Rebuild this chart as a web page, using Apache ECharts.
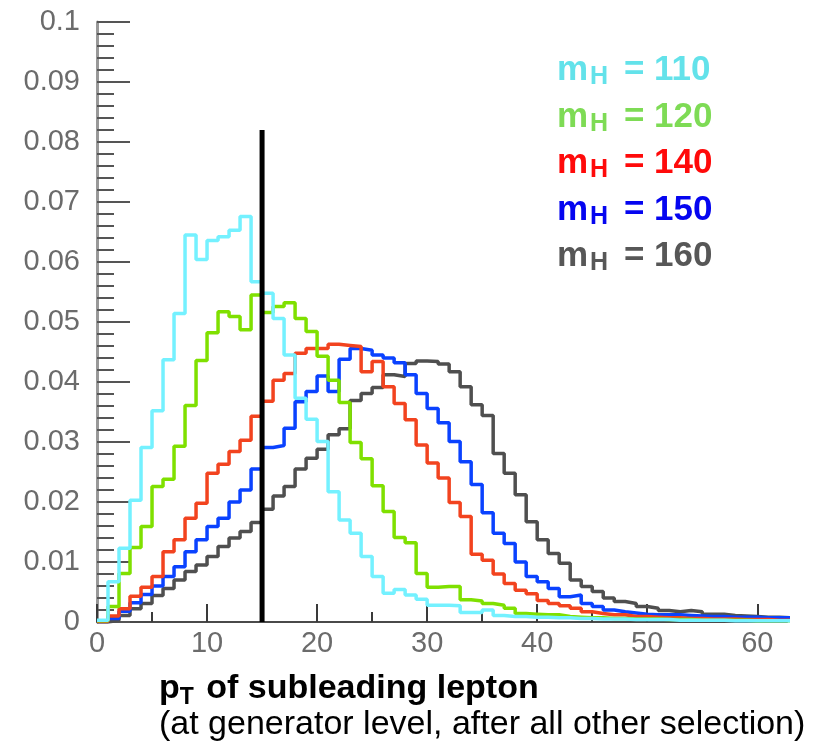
<!DOCTYPE html>
<html>
<head>
<meta charset="utf-8">
<script src="https://cdn.jsdelivr.net/npm/echarts@6/dist/echarts.min.js"></script>
<style>
  html, body { margin: 0; padding: 0; background: #ffffff; }
  #chart { width: 827px; height: 744px; }
</style>
</head>
<body>
<div id="chart"></div>
<script>
// ---- Data ----
// Histogram bins: 1 GeV wide, starting at 0 GeV
const binStart = 0;
const binWidth = 1;

const mH110 = [
  0.0003, 0.0067, 0.0123, 0.0203, 0.0291, 0.0352, 0.0437, 0.0514, 0.0645, 0.0604,
  0.0636, 0.0642, 0.0653, 0.0676, 0.0567, 0.0548, 0.0506, 0.0445, 0.0373, 0.0338,
  0.0301, 0.0217, 0.0170, 0.0148, 0.0109, 0.0076, 0.0048, 0.0054, 0.0045, 0.0038,
  0.0028, 0.0028, 0.0027, 0.0016, 0.0016, 0.0020, 0.0011, 0.0009, 0.0009, 0.0008,
  0.0008, 0.0007, 0.0007, 0.0006, 0.0006, 0.0005, 0.0005, 0.0005, 0.0004, 0.0004,
  0.0004, 0.0004, 0.0003, 0.0003, 0.0003, 0.0003, 0.0003, 0.0002, 0.0002, 0.0002,
  0.0002, 0.0002, 0.0002
];
const mH120 = [
  0.0002, 0.0026, 0.0081, 0.0124, 0.0159, 0.0226, 0.0238, 0.0293, 0.0361, 0.0436,
  0.0482, 0.0517, 0.0509, 0.0487, 0.0545, 0.0516, 0.0526, 0.0532, 0.0506, 0.0484,
  0.0443, 0.0403, 0.0366, 0.0299, 0.0272, 0.0227, 0.0184, 0.0141, 0.0132, 0.0081,
  0.0058, 0.0059, 0.0059, 0.0037, 0.0035, 0.0031, 0.0028, 0.0023, 0.0014, 0.0013,
  0.0012, 0.0012, 0.0009, 0.0008, 0.0007, 0.0007, 0.0006, 0.0006, 0.0005, 0.0005,
  0.0005, 0.0004, 0.0004, 0.0004, 0.0003, 0.0003, 0.0003, 0.0003, 0.0003, 0.0002,
  0.0002, 0.0002, 0.0002
];
const mH140 = [
  0.0001, 0.0010, 0.0022, 0.0043, 0.0058, 0.0076, 0.0117, 0.0137, 0.0173, 0.0198,
  0.0248, 0.0263, 0.0284, 0.0303, 0.0343, 0.0368, 0.0403, 0.0414, 0.0448, 0.0456,
  0.0456, 0.0463, 0.0461, 0.0459, 0.0417, 0.0434, 0.0392, 0.0364, 0.0337, 0.0295,
  0.0265, 0.0240, 0.0199, 0.0176, 0.0113, 0.0103, 0.0080, 0.0064, 0.0053, 0.0047,
  0.0036, 0.0031, 0.0027, 0.0023, 0.0017, 0.0014, 0.0012, 0.0012, 0.0009, 0.0009,
  0.0008, 0.0007, 0.0007, 0.0006, 0.0006, 0.0005, 0.0005, 0.0005, 0.0004, 0.0004,
  0.0004, 0.0003, 0.0003
];
const mH150 = [
  0.0001, 0.0006, 0.0018, 0.0032, 0.0046, 0.0060, 0.0076, 0.0092, 0.0117, 0.0137,
  0.0159, 0.0173, 0.0200, 0.0220, 0.0255, 0.0291, 0.0294, 0.0323, 0.0367, 0.0384,
  0.0410, 0.0384, 0.0438, 0.0456, 0.0453, 0.0445, 0.0440, 0.0432, 0.0412, 0.0381,
  0.0356, 0.0332, 0.0301, 0.0267, 0.0229, 0.0182, 0.0148, 0.0131, 0.0100, 0.0076,
  0.0067, 0.0056, 0.0042, 0.0045, 0.0031, 0.0026, 0.0020, 0.0017, 0.0015, 0.0013,
  0.0012, 0.0012, 0.0012, 0.0011, 0.0010, 0.0009, 0.0009, 0.0008, 0.0008, 0.0008,
  0.0007, 0.0007, 0.0007
];
const mH160 = [
  0.0000, 0.0003, 0.0011, 0.0022, 0.0031, 0.0044, 0.0056, 0.0070, 0.0084, 0.0095,
  0.0109, 0.0126, 0.0140, 0.0151, 0.0166, 0.0188, 0.0210, 0.0226, 0.0255, 0.0273,
  0.0288, 0.0312, 0.0322, 0.0369, 0.0381, 0.0391, 0.0412, 0.0409, 0.0431, 0.0435,
  0.0434, 0.0430, 0.0417, 0.0392, 0.0362, 0.0344, 0.0281, 0.0248, 0.0212, 0.0167,
  0.0137, 0.0114, 0.0098, 0.0070, 0.0059, 0.0051, 0.0040, 0.0034, 0.0031, 0.0026,
  0.0023, 0.0019, 0.0017, 0.0019, 0.0017, 0.0013, 0.0013, 0.0011, 0.0010, 0.0009,
  0.0008, 0.0008, 0.0007
];

const seriesNames = ['m_H = 110', 'm_H = 120', 'm_H = 140', 'm_H = 150', 'm_H = 160'];
const massLabels = ['110', '120', '140', '150', '160'];

// cut line on pT of subleading lepton
const cutValue = 15;
const cutTop = 0.082;

const xTickLabels = [0, 10, 20, 30, 40, 50, 60];
const xMinorTicks = [5, 15, 25, 35, 45, 55];
const xMax = 62.7;
const yTickStep = 0.01;
const yMax = 0.1;

// ---- Styles ----
const lineColors = ['#74f1ff', '#7fe000', '#f2431f', '#0a42ff', '#4f4f4f'];
const textColors = ['#63e2ea', '#7edb55', '#ff0a0a', '#0505f0', '#575757'];
const FONT = "'Liberation Sans', Arial, Helvetica, sans-serif";

function histData(values) {
  const pts = values.map((v, i) => [binStart + i * binWidth, v]);
  pts.push([binStart + values.length * binWidth, values[values.length - 1]]);
  return pts;
}

const allValues = [mH110, mH120, mH140, mH150, mH160];
const drawOrder = [4, 3, 2, 1, 0];

const series = drawOrder.map((idx, k) => ({
  name: seriesNames[idx],
  type: 'line',
  step: 'end',
  xAxisIndex: 0,
  yAxisIndex: 0,
  data: histData(allValues[idx]),
  showSymbol: false,
  symbol: 'none',
  clip: true,
  silent: true,
  z: 2 + k,
  lineStyle: { color: lineColors[idx], width: 3.5 },
  animation: false
}));

series.push({
  name: 'cut',
  type: 'line',
  data: [[cutValue, 0], [cutValue, cutTop]],
  showSymbol: false,
  symbol: 'none',
  silent: true,
  z: 20,
  lineStyle: { color: '#000000', width: 5, cap: 'butt' },
  animation: false
});

const legendTops = [50, 97, 143, 190, 236];
const graphics = massLabels.map((m, i) => ({
  type: 'text',
  x: 557,
  y: legendTops[i],
  z: 100,
  style: {
    text: '{m|m}{h|H}{m| = ' + m + '}',
    verticalAlign: 'top',
    rich: {
      m: { fontSize: 35, fontWeight: 'bold', fontFamily: FONT, fill: textColors[i], lineHeight: 40 },
      h: { fontSize: 25, fontWeight: 'bold', fontFamily: FONT, fill: textColors[i], lineHeight: 18,
           verticalAlign: 'bottom', padding: [0, 6, 0, 2] }
    }
  }
}));

graphics.push({
  type: 'text',
  x: 159,
  y: 669,
  z: 100,
  style: {
    text: '{b|p}{t|T}{b| of subleading lepton}',
    verticalAlign: 'top',
    rich: {
      b: { fontSize: 34, fontWeight: 'bold', fontFamily: FONT, fill: '#000000', lineHeight: 40 },
      t: { fontSize: 23, fontWeight: 'bold', fontFamily: FONT, fill: '#000000', lineHeight: 24,
           verticalAlign: 'bottom', padding: [0, 3, 0, 0] }
    }
  }
});
graphics.push({
  type: 'text',
  x: 159,
  y: 705,
  z: 100,
  style: {
    text: '(at generator level, after all other selection)',
    verticalAlign: 'top',
    fontSize: 34,
    fontFamily: FONT,
    fill: '#000000',
    lineHeight: 40
  }
});

const option = {
  backgroundColor: '#ffffff',
  animation: false,
  grid: { left: 97, right: 40, top: 22, bottom: 122, containLabel: false },
  xAxis: [
    {
      type: 'value',
      position: 'bottom',
      min: 0,
      max: xMax,
      interval: 10,
      axisLine: { show: true, onZero: false, lineStyle: { color: '#4a4a4a', width: 2 } },
      axisTick: { show: true, inside: true, length: 18, customValues: xTickLabels,
                  lineStyle: { color: '#3a3a3a', width: 2 } },
      axisLabel: { show: true, customValues: xTickLabels, margin: 7, fontSize: 29,
                   fontFamily: FONT, color: '#6b6b6b' },
      splitLine: { show: false },
      minorTick: { show: false }
    },
    {
      type: 'value',
      position: 'bottom',
      min: 0,
      max: xMax,
      interval: 10,
      axisLine: { show: false },
      axisTick: { show: true, inside: true, length: 10, customValues: xMinorTicks,
                  lineStyle: { color: '#3a3a3a', width: 2 } },
      axisLabel: { show: false },
      splitLine: { show: false }
    }
  ],
  yAxis: {
    type: 'value',
    min: 0,
    max: yMax,
    interval: yTickStep,
    axisLine: { show: true, onZero: false, lineStyle: { color: '#999999', width: 3 } },
    axisTick: { show: true, inside: true, length: 33, lineStyle: { color: '#555555', width: 2 } },
    minorTick: { show: true, splitNumber: 5, length: 17, lineStyle: { color: '#555555', width: 2 } },
    axisLabel: { margin: 17, fontSize: 29, fontFamily: FONT, color: '#6b6b6b',
                 formatter: v => String(+v.toFixed(2)) },
    splitLine: { show: false }
  },
  series: series,
  graphic: graphics
};

const chart = echarts.init(document.getElementById('chart'), null, { renderer: 'canvas' });
chart.setOption(option);
</script>
</body>
</html>
